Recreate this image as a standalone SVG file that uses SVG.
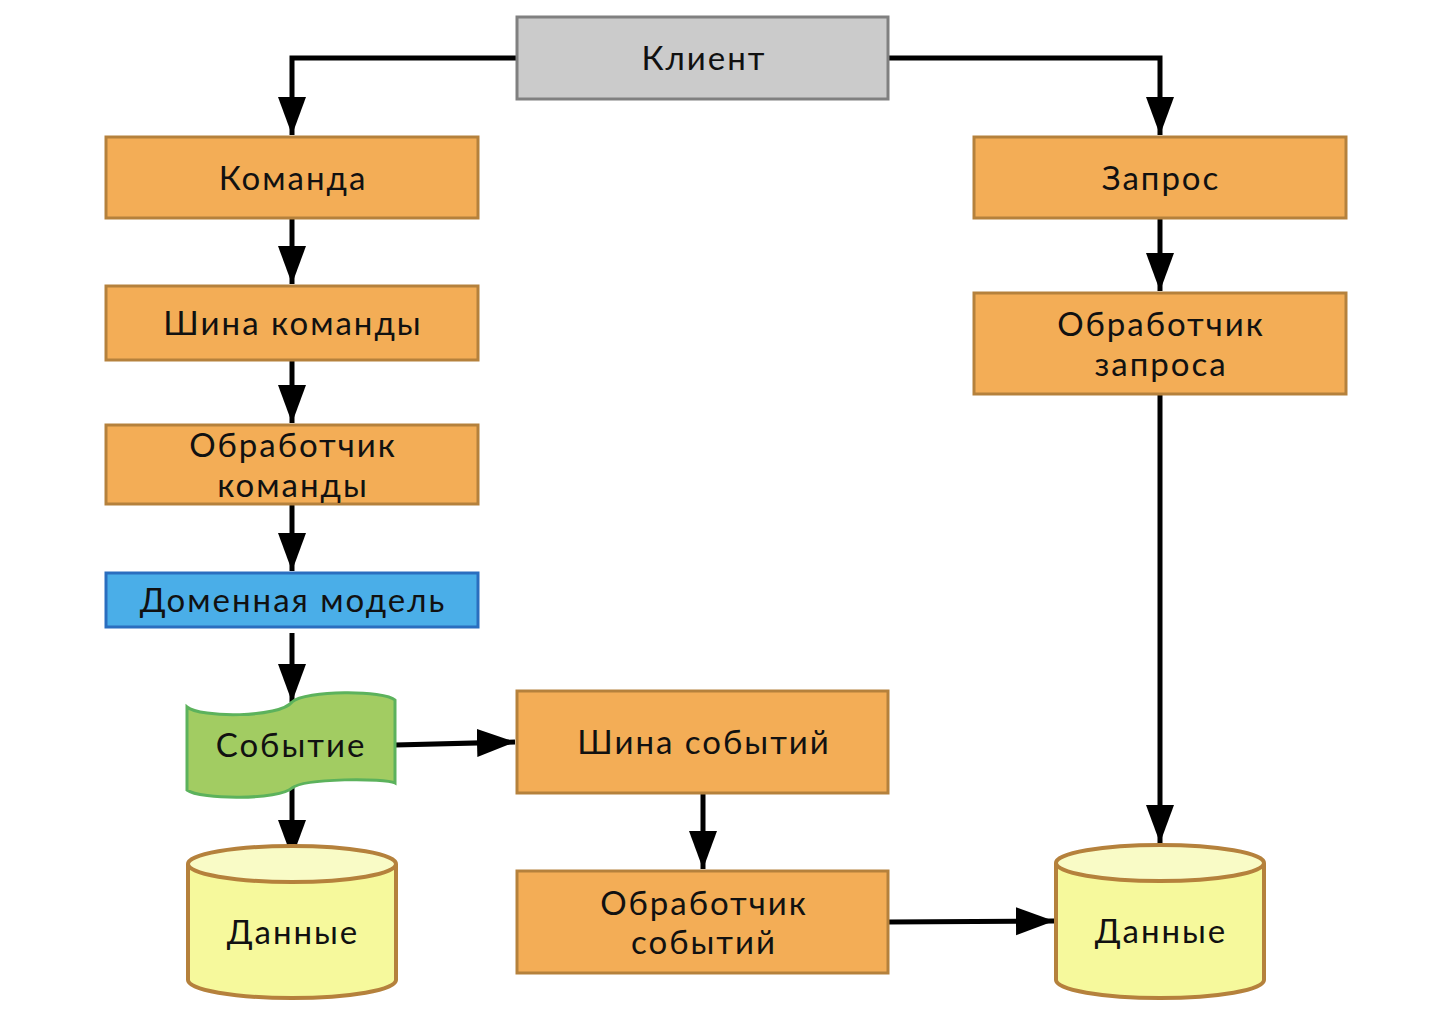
<svg xmlns="http://www.w3.org/2000/svg" width="1450" height="1028" viewBox="0 0 1450 1028">
<style>
.box{fill:#f3ad56;stroke:#b5813c;stroke-width:3}
.client{fill:#cbcbcb;stroke:#808080;stroke-width:3}
.domain{fill:#4aaee8;stroke:#2a6ebf;stroke-width:3}
.event{fill:#a2cc62;stroke:#5cb25c;stroke-width:3}
.cyl{fill:#f6f99c;stroke:#b5813c;stroke-width:4}
.cyltop{fill:#f9fbc6;stroke:#b5813c;stroke-width:4}
text{font-family:Lato,"Open Sans",sans-serif;font-size:33px;letter-spacing:2px;fill:#111;text-anchor:middle}
.conn path{fill:none;stroke:#000;stroke-width:5}
</style>
<defs>
<marker id="arr" markerUnits="userSpaceOnUse" markerWidth="40" markerHeight="30" refX="38" refY="14" orient="auto">
<path d="M0,0 L38,14 L0,28 Z" fill="#000"/>
</marker>
</defs>
<g class="conn" id="connectors">
<path d="M517,58 L292,58 L292,135" marker-end="url(#arr)"/>
<path d="M888,58 L1160,58 L1160,135" marker-end="url(#arr)"/>
<path d="M292,218 L292,284" marker-end="url(#arr)"/>
<path d="M292,360 L292,423" marker-end="url(#arr)"/>
<path d="M292,504 L292,571" marker-end="url(#arr)"/>
<path d="M292,633 L292,702" marker-end="url(#arr)"/>
<path d="M292,788 L292,858" marker-end="url(#arr)"/>
<path d="M395,745 L515,742" marker-end="url(#arr)"/>
<path d="M703,793 L703,869" marker-end="url(#arr)"/>
<path d="M888,922 L1054,921" marker-end="url(#arr)"/>
<path d="M1160,218 L1160,291" marker-end="url(#arr)"/>
<path d="M1160,394 L1160,843" marker-end="url(#arr)"/>
</g>
<g id="client"><rect class="client" x="517" y="17" width="371" height="82"/><text x="704" y="70">Клиент</text></g>
<g id="command"><rect class="box" x="106" y="137" width="372" height="81"/><text x="293" y="190">Команда</text></g>
<g id="command-bus"><rect class="box" x="106" y="286" width="372" height="74"/><text x="293" y="335">Шина команды</text></g>
<g id="command-handler"><rect class="box" x="106" y="425" width="372" height="79"/><text x="293" y="457">Обработчик</text><text x="293" y="497">команды</text></g>
<g id="domain"><rect class="domain" x="106" y="573" width="372" height="54"/><text x="293" y="612">Доменная модель</text></g>
<g id="event"><path class="event" d="M187,707 C200,718 280,718 292,702 C305,690 385,690 395,700 L395,783 C385,778 305,778 292,788 C280,800 200,800 187,790 Z"/><text x="291" y="757">Событие</text></g>
<g id="data-left"><path class="cyl" d="M188,864 L188,980 A104,18 0 0 0 396,980 L396,864"/><ellipse class="cyltop" cx="292" cy="864" rx="104" ry="18"/><text x="293" y="944">Данные</text></g>
<g id="event-bus"><rect class="box" x="517" y="691" width="371" height="102"/><text x="704" y="754">Шина событий</text></g>
<g id="event-handler"><rect class="box" x="517" y="871" width="371" height="102"/><text x="704" y="915">Обработчик</text><text x="704" y="954">событий</text></g>
<g id="query"><rect class="box" x="974" y="137" width="372" height="81"/><text x="1161" y="190">Запрос</text></g>
<g id="query-handler"><rect class="box" x="974" y="293" width="372" height="101"/><text x="1161" y="336">Обработчик</text><text x="1161" y="376">запроса</text></g>
<g id="data-right"><path class="cyl" d="M1056,863 L1056,980 A104,18 0 0 0 1264,980 L1264,863"/><ellipse class="cyltop" cx="1160" cy="863" rx="104" ry="18"/><text x="1161" y="943">Данные</text></g>
</svg>
